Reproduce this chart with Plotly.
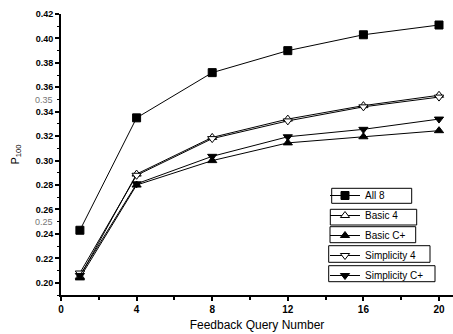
import plotly.graph_objects as go

queries = [1, 4, 8, 12, 16, 20]
all8 = [0.243, 0.335, 0.372, 0.390, 0.403, 0.411]
basic4 = [0.205, 0.289, 0.319, 0.334, 0.345, 0.3535]
basic_cplus = [0.204, 0.280, 0.300, 0.3145, 0.3195, 0.3245]
simp4 = [0.208, 0.288, 0.318, 0.3325, 0.344, 0.352]
simp_cplus = [0.206, 0.281, 0.3035, 0.3195, 0.3256, 0.334]

series = [
    ("All 8", all8, "square", "black"),
    ("Basic 4", basic4, "triangle-up", "white"),
    ("Basic C+", basic_cplus, "triangle-up", "black"),
    ("Simplicity 4", simp4, "triangle-down", "white"),
    ("Simplicity C+", simp_cplus, "triangle-down", "black"),
]

FONT = "Liberation Sans, Arial, sans-serif"
W, H = 453, 334
ML, MR, MT, MB = 61, 0, 14, 39

fig = go.Figure()
for i, (name, vals, sym, fill) in enumerate(series):
    fig.add_trace(go.Scatter(
        x=queries, y=vals, name=name, mode="lines+markers",
        legendgroup=str(i),
        line=dict(color="black", width=1),
        marker=dict(symbol=sym, size=8, color=fill, line=dict(color="black", width=1)),
    ))

pw, ph = W - ML - MR, H - MT - MB

def px(X):
    return (X - ML) / pw

def py(Y):
    return (H - MB - Y) / ph

boxes = [(331.7, 411.7, 188.3, 203.3), (330.3, 416.7, 209.3, 225), (330, 415.7, 226.7, 242.7),
         (328.7, 430, 245.7, 262.3), (328.7, 435, 265.7, 281.7)]
shapes = []
for x0, x1, y0, y1 in boxes:
    shapes.append(dict(type="rect", xref="paper", yref="paper", x0=px(x0), x1=px(x1),
                       y0=py(y1), y1=py(y0), line=dict(color="black", width=1)))

annotations = []
for v in [0.25, 0.35]:
    annotations.append(dict(xref="paper", yref="y", x=0, y=v, text=f"{v:.2f}", showarrow=False,
                            xanchor="right", xshift=-6, font=dict(family=FONT, size=9, color="#777777")))

fig.update_layout(
    width=W, height=H, margin=dict(l=ML, r=MR, t=MT, b=MB),
    paper_bgcolor="white", plot_bgcolor="white",
    font=dict(family=FONT, color="black"),
    shapes=shapes, annotations=annotations,
    legend=dict(x=px(325), y=py(181), xanchor="left", yanchor="top",
                bgcolor="rgba(0,0,0,0)", borderwidth=0, tracegroupgap=1,
                font=dict(family=FONT, size=10), itemwidth=30),
    xaxis=dict(range=[0, 20.74], tick0=0, dtick=4, showgrid=False, zeroline=False,
               showline=True, linecolor="black", linewidth=2,
               ticks="outside", ticklen=4, tickwidth=1.5, tickcolor="black",
               minor=dict(dtick=2, ticks="outside", ticklen=3, tickcolor="black", tickwidth=1.5),
               tickfont=dict(family=FONT, size=10, weight="bold"),
               title=dict(text="Feedback Query Number", font=dict(family=FONT, size=12), standoff=7)),
    yaxis=dict(range=[0.19, 0.42], tick0=0.2, dtick=0.02, tickformat=".2f", showgrid=False, zeroline=False,
               showline=True, linecolor="black", linewidth=2,
               ticks="outside", ticklen=4, tickwidth=1.5, tickcolor="black",
               minor=dict(dtick=0.01, ticks="outside", ticklen=2, tickcolor="black", tickwidth=1),
               tickfont=dict(family=FONT, size=9, weight="bold"),
               title=dict(text="P<sub>100</sub>", font=dict(family=FONT, size=11), standoff=14)),
)

fig.write_html("out.html", post_script="document.body.style.margin='0';",
               config={"displayModeBar": False})
